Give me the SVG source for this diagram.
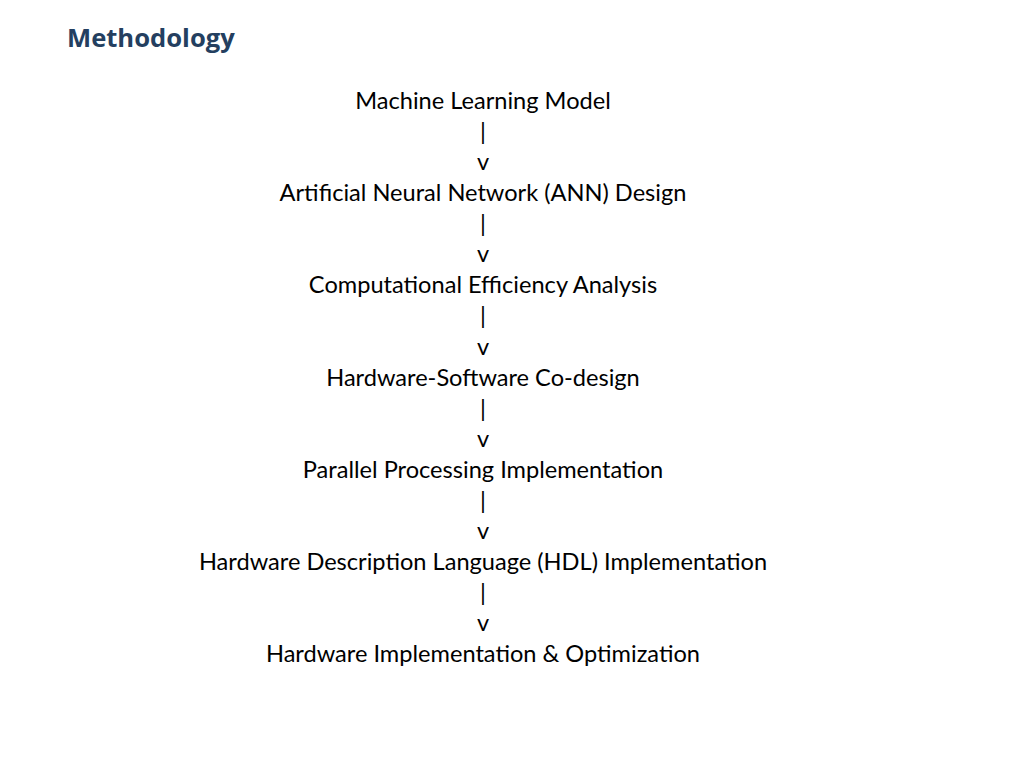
<svg xmlns="http://www.w3.org/2000/svg" width="1024" height="768" viewBox="0 0 1024 768">
<style>
.t{font-family:Lato,Carlito,"Liberation Sans",sans-serif;font-size:23.6px;fill:#000;text-anchor:middle}
.h{font-family:"Open Sans","Noto Sans",sans-serif;font-size:25.6px;font-weight:bold;fill:#243f60}
</style>
<rect width="1024" height="768" fill="#fff"/>
<text class="h" x="67" y="47">Methodology</text>
<g id="n1"><text class="t" x="483" y="109">Machine Learning Model</text></g>
<g id="n2"><text class="t" x="483" y="201">Artificial Neural Network (ANN) Design</text></g>
<g id="n3"><text class="t" x="483" y="293">Computational Efficiency Analysis</text></g>
<g id="n4"><text class="t" x="483" y="386">Hardware-Software Co-design</text></g>
<g id="n5"><text class="t" x="483" y="478">Parallel Processing Implementation</text></g>
<g id="n6"><text class="t" x="483" y="570">Hardware Description Language (HDL) Implementation</text></g>
<g id="n7"><text class="t" x="483" y="662">Hardware Implementation &amp; Optimization</text></g>
<g id="connectors">
<text class="t" x="483" y="140">|</text><text class="t" x="483" y="170">v</text>
<text class="t" x="483" y="232">|</text><text class="t" x="483" y="262">v</text>
<text class="t" x="483" y="324">|</text><text class="t" x="483" y="355">v</text>
<text class="t" x="483" y="417">|</text><text class="t" x="483" y="447">v</text>
<text class="t" x="483" y="509">|</text><text class="t" x="483" y="539">v</text>
<text class="t" x="483" y="601">|</text><text class="t" x="483" y="631">v</text>
</g>
</svg>
